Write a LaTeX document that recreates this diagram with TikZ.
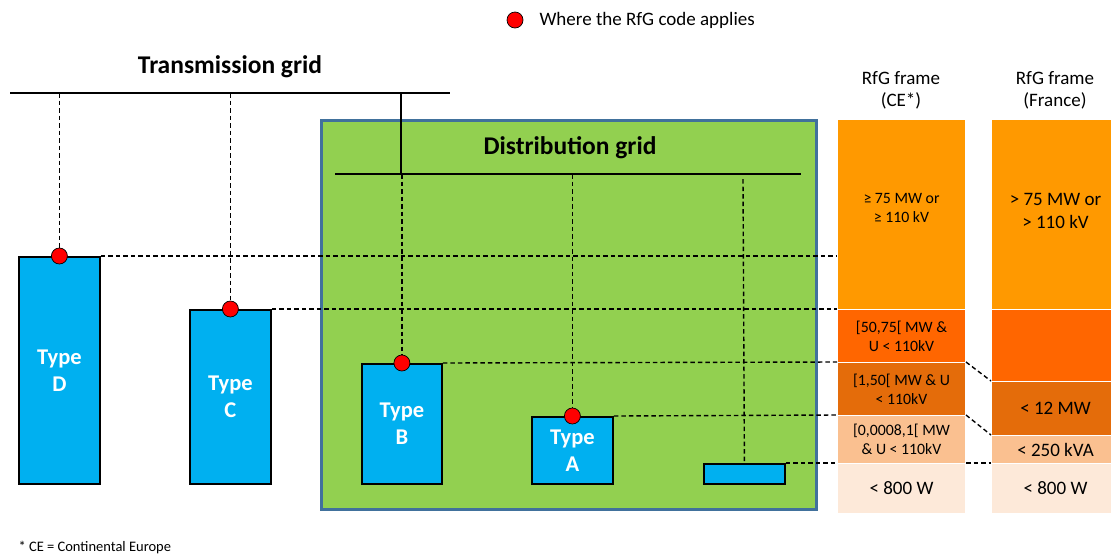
\documentclass[tikz,border=0pt]{standalone}
\usepackage{fontspec}
\setmainfont{Carlito}
\usetikzlibrary{calc}
\definecolor{orgA}{HTML}{FF9900}
\definecolor{orgB}{HTML}{FF6600}
\definecolor{orgC}{HTML}{E46C0A}
\definecolor{orgD}{HTML}{FAC090}
\definecolor{orgE}{HTML}{FDE9D9}
\definecolor{boxblue}{HTML}{00B0F0}
\definecolor{gridgreen}{HTML}{92D050}
\definecolor{gridedge}{HTML}{41719C}
\tikzset{
  typebox/.style={draw=black, line width=1.8pt, fill=boxblue, anchor=north west, inner sep=0pt,
    text=white, font=\fontsize{22.5}{27}\selectfont\bfseries, align=center},
  dot/.style={circle, draw=black, line width=0.7pt, fill=red, minimum size=16pt, inner sep=0pt},
  dashline/.style={draw=black, line width=1.4pt, dash pattern=on 4.5pt off 3pt},
  busline/.style={draw=black, line width=2pt},
  seg/.style={draw=white, line width=1pt, anchor=north west, inner sep=0pt, align=center, text=black},
  cetext/.style={font=\fontsize{15.8}{19}\selectfont, align=center},
  frtext/.style={font=\fontsize{19}{23}\selectfont, align=center},
  headtext/.style={font=\fontsize{19}{22}\selectfont, align=center}
}
\begin{document}
\begin{tikzpicture}[x=1pt,y=-1pt]
\useasboundingbox (0,0) rectangle (1111,555);
\clip (0,0) rectangle (1111,555);
% legend
\node[dot] (legdot) at (515,20) {};
\node[anchor=west, font=\fontsize{19}{22}\selectfont] (legtext) at (536,20) {Where the RfG code applies};
% green distribution area
\node[draw=gridedge, line width=2.5pt, fill=gridgreen, anchor=north west, minimum width=495pt, minimum height=389pt, inner sep=0pt] (dist) at (320,119) {};
% titles
\node[font=\fontsize{25.5}{30}\selectfont\bfseries] (ttitle) at (230,67) {Transmission grid};
\node[font=\fontsize{25.5}{30}\selectfont\bfseries] (dtitle) at (570,148) {Distribution grid};
% buses
\coordinate (tbL) at (10,93);
\coordinate (tbR) at (450,93);
\draw[busline] (tbL) -- (tbR);
\coordinate (dbL) at (335,174);
\coordinate (dbR) at (801,174);
\draw[busline] (dbL) -- (dbR);
\coordinate (tap) at (401,93);
\coordinate (dtap) at (401,174);
\draw[busline] (tap) -- (dtap);
% RfG columns
\node[seg, fill=orgA, minimum width=128pt, minimum height=190pt] (ce1) at (837,119) {};
\node[cetext] (ce1txt) at ([yshift=7pt]ce1.center) {≥ 75 MW or\\≥ 110 kV};
\node[seg, fill=orgB, minimum width=128pt, minimum height=53pt, cetext] (ce2) at (837,309) {[50,75[ MW \&\\U < 110kV};
\node[seg, fill=orgC, minimum width=128pt, minimum height=53pt, cetext] (ce3) at (837,362) {[1,50[ MW \& U\\< 110kV};
\node[seg, fill=orgD, minimum width=128pt, minimum height=48pt, cetext] (ce4) at (837,415) {[0,0008,1[ MW\\\& U < 110kV};
\node[seg, fill=orgE, minimum width=128pt, minimum height=50pt, frtext] (ce5) at (837,463) {< 800 W};
\node[seg, fill=orgA, minimum width=128pt, minimum height=190pt] (fr1) at (991,119) {};
\node[frtext] (fr1txt) at ([yshift=4pt]fr1.center) {> 75 MW or\\> 110 kV};
\node[seg, fill=orgB, minimum width=128pt, minimum height=72pt] (fr2) at (991,309) {};
\node[seg, fill=orgC, minimum width=128pt, minimum height=54pt, frtext] (fr3) at (991,381) {< 12 MW};
\node[seg, fill=orgD, minimum width=128pt, minimum height=28pt, frtext] (fr4) at (991,435) {< 250 kVA};
\node[seg, fill=orgE, minimum width=128pt, minimum height=50pt, frtext] (fr5) at (991,463) {< 800 W};
\node[headtext] (cehead) at (901,90) {RfG frame\\(CE*)};
\node[headtext] (frhead) at (1055,90) {RfG frame\\(France)};
% type boxes
\node[typebox, minimum width=81pt, minimum height=227pt] (D) at (18,256) {Type\\D};
\node[typebox, minimum width=81pt, minimum height=174pt] (C) at (189,309) {Type\\C};
\node[typebox, minimum width=80pt, minimum height=120pt] (B) at (361,363) {Type\\B};
\node[typebox, minimum width=81pt, minimum height=67pt] (A) at (531,416) {Type\\A};
\node[typebox, minimum width=81pt, minimum height=20pt] (S) at (703,463) {};
% vertical dashed connectors
\draw[dashline] (D.north |- tbL) -- (D.north);
\draw[dashline] (C.north |- tbL) -- (C.north);
\draw[dashline] (B.north |- dbL) -- (B.north);
\draw[dashline] (A.north |- dbL) -- (A.north);
\coordinate (stop) at (743,179);
\draw[dashline] (stop) -- (S.north);
% horizontal dashed connectors
\draw[dashline] (D.north east) -- (D.north east -| ce1.west);
\draw[dashline] (C.north east) -- (ce2.north west);
\draw[dashline] (B.north east) -- (ce3.north west);
\draw[dashline] (A.north east) -- (ce4.north west);
\draw[dashline] (S.north east) -- (ce5.north west);
\draw[dashline] (ce5.north east) -- (fr5.north west);
\draw[dashline] (ce3.north east) -- (fr3.north west);
\draw[dashline] (ce4.north east) -- (fr4.north west);
% dots
\node[dot] (dD) at (D.north) {};
\node[dot] (dC) at (C.north) {};
\node[dot] (dB) at (B.north) {};
\node[dot] (dA) at (A.north) {};
% footnote
\node[anchor=west, font=\fontsize{14.5}{16}\selectfont] (foot) at (15,548) {* CE = Continental Europe};
\end{tikzpicture}
\end{document}
